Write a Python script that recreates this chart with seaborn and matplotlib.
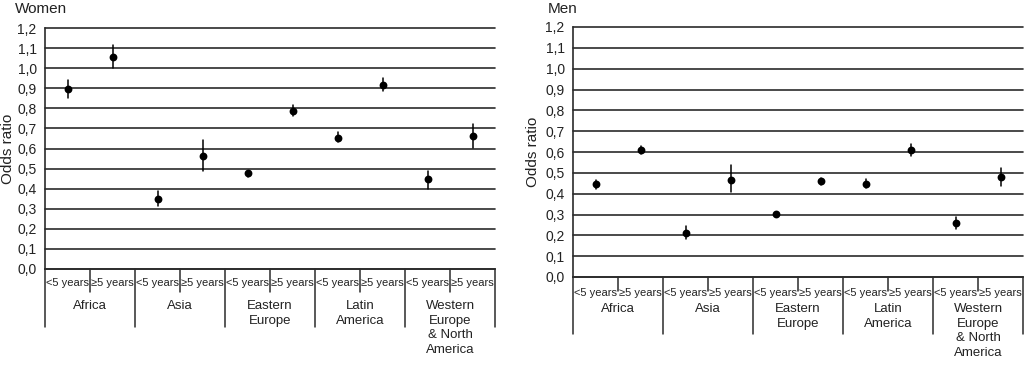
"""Odds ratios by region of origin and duration of residence, women and men."""

import matplotlib.pyplot as plt
import matplotlib.transforms as mtransforms
import pandas as pd
import seaborn as sns

# Categories
regions = ["Africa", "Asia", "Eastern\nEurope", "Latin\nAmerica",
           "Western\nEurope\n& North\nAmerica"]
durations = ["<5 years", "\u22655 years"]

# Women: estimate, lower and upper limits (region x duration, in order)
women_or = [0.895, 1.057, 0.349, 0.561, 0.477, 0.787, 0.654, 0.918, 0.447, 0.661]
women_lo = [0.850, 1.003, 0.314, 0.490, 0.460, 0.763, 0.630, 0.886, 0.400, 0.604]
women_hi = [0.940, 1.114, 0.390, 0.642, 0.490, 0.815, 0.680, 0.950, 0.490, 0.722]

# Men
men_or = [0.445, 0.611, 0.212, 0.467, 0.303, 0.461, 0.448, 0.611, 0.260, 0.480]
men_lo = [0.422, 0.589, 0.183, 0.409, 0.297, 0.443, 0.425, 0.581, 0.230, 0.436]
men_hi = [0.464, 0.630, 0.244, 0.538, 0.310, 0.476, 0.469, 0.639, 0.289, 0.523]

y_ticks = [0.0, 0.1, 0.2, 0.3, 0.4, 0.5, 0.6, 0.7, 0.8, 0.9, 1.0, 1.1, 1.2]
y_tick_labels = ["0,0", "0,1", "0,2", "0,3", "0,4", "0,5", "0,6",
                 "0,7", "0,8", "0,9", "1,0", "1,1", "1,2"]

FIG_W, FIG_H = 1024, 365
LINE_COLOR = "#2b2b2b"
TEXT_COLOR = "#222222"


def _long_frame(est, lo, hi) -> pd.DataFrame:
    """Three rows per category so median = estimate and min/max = interval."""
    rows = []
    for i, (e, l, h) in enumerate(zip(est, lo, hi)):
        for v in (l, e, h):
            rows.append({"cat": str(i), "value": v})
    return pd.DataFrame(rows)


def _box(left, top, right, bottom):
    return [left / FIG_W, 1 - bottom / FIG_H,
            (right - left) / FIG_W, (bottom - top) / FIG_H]


def _draw_panel(fig, box, est, lo, hi, title, title_x, label_x,
                sub_text_dy, sub_line_dy, grp_text_dy, grp_line_dy):
    ax = fig.add_axes(_box(*box))
    df = _long_frame(est, lo, hi)
    sns.pointplot(
        data=df, x="cat", y="value", order=[str(i) for i in range(len(est))],
        estimator="median", errorbar=("pi", 100), color="black",
        linestyle="none", marker="o", markersize=3.6,
        err_kws={"linewidth": 1.1}, ax=ax,
    )
    n = len(est)
    ax.set_xlim(-0.5, n - 0.5)
    ax.set_ylim(0, 1.2)
    ax.set_yticks(y_ticks)
    ax.set_yticklabels(y_tick_labels, fontsize=10, color=TEXT_COLOR)
    ax.set_xticks([])
    ax.set_xlabel("")
    ax.set_ylabel("Odds ratio", fontsize=11, color=TEXT_COLOR)
    ax.yaxis.set_label_coords(label_x, 0.5)
    ax.tick_params(axis="y", length=4, width=1, color=LINE_COLOR, pad=2)
    ax.grid(axis="y", color=LINE_COLOR, linewidth=1.2)
    for line in ax.get_ygridlines():
        line.set_clip_on(False)
    ax.set_axisbelow(True)
    for side in ("top", "right"):
        ax.spines[side].set_visible(False)
    for side in ("left", "bottom"):
        ax.spines[side].set_color(LINE_COLOR)
        ax.spines[side].set_linewidth(1.2)

    # category table below the axis
    h_px = box[3] - box[1]
    trans = mtransforms.blended_transform_factory(ax.transData, ax.transAxes)

    def fy(dy):
        return -dy / h_px

    for i in range(n):
        ax.text(i, fy(sub_text_dy), durations[i % 2], ha="center",
                va="center", fontsize=8, color=TEXT_COLOR, transform=trans)
    for k in range(n + 1):
        x = k - 0.5
        bottom = grp_line_dy if k % 2 == 0 else sub_line_dy
        ax.plot([x, x], [0, fy(bottom)], color=LINE_COLOR, linewidth=1.1,
                transform=trans, clip_on=False)
    for g, name in enumerate(regions):
        ax.text(2 * g + 0.5, fy(grp_text_dy), name, ha="center", va="top",
                fontsize=9.5, color=TEXT_COLOR, linespacing=1.3,
                transform=trans)

    fig.text(title_x / FIG_W, 1 - 9 / FIG_H, title, fontsize=11,
             ha="left", va="center", color=TEXT_COLOR)
    return ax


def create_chart() -> None:
    sns.set_style("white")
    plt.rcParams["font.family"] = ["Liberation Sans", "DejaVu Sans"]
    fig = plt.figure(figsize=(FIG_W / 100, FIG_H / 100), dpi=100)
    _draw_panel(fig, (45, 28, 495, 269), women_or, women_lo, women_hi,
                "Women", 15, -0.066, 14, 23, 31, 58)
    _draw_panel(fig, (573, 27, 1023, 277), men_or, men_lo, men_hi,
                "Men", 548, -0.074, 16, 14, 26, 57)
    fig.savefig("out.png", dpi=100)
    plt.close(fig)


if __name__ == "__main__":
    create_chart()
